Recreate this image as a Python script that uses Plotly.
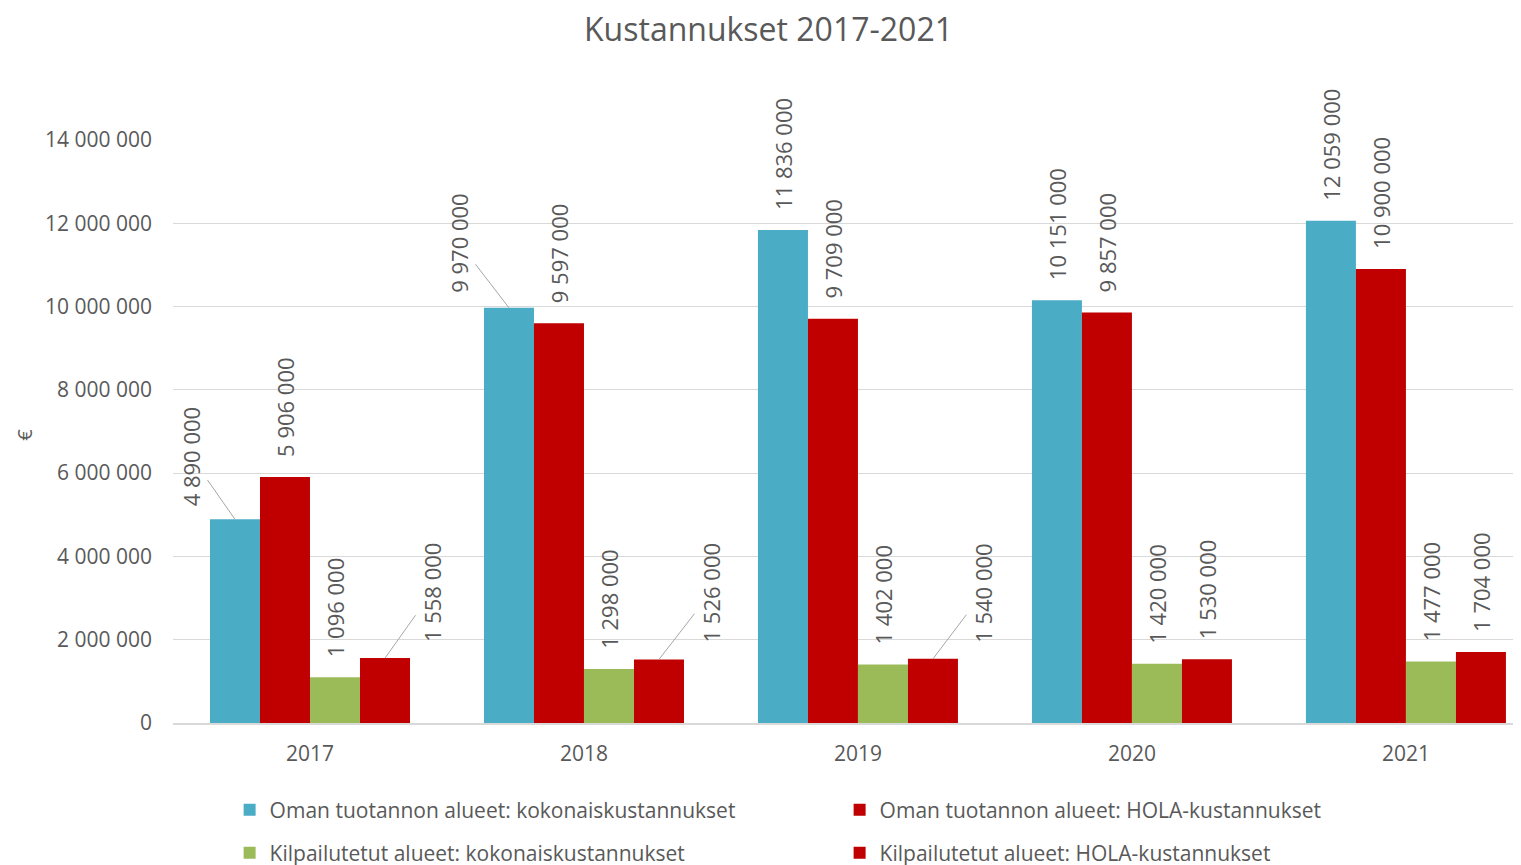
import plotly.graph_objects as go

years = ["2017", "2018", "2019", "2020", "2021"]
series_names = [
    "Oman tuotannon alueet: kokonaiskustannukset",
    "Oman tuotannon alueet: HOLA-kustannukset",
    "Kilpailutetut alueet: kokonaiskustannukset",
    "Kilpailutetut alueet: HOLA-kustannukset",
]
own_total = [4890000, 9970000, 11836000, 10151000, 12059000]
own_hola = [5906000, 9597000, 9709000, 9857000, 10900000]
comp_total = [1096000, 1298000, 1402000, 1420000, 1477000]
comp_hola = [1558000, 1526000, 1540000, 1530000, 1704000]
y_ticks = [0, 2000000, 4000000, 6000000, 8000000, 10000000, 12000000, 14000000]

colors = ["#4BACC6", "#C00000", "#9BBB59", "#C00000"]
series = [own_total, own_hola, comp_total, comp_hola]

# labels drawn with leader lines: (series index, year index, ax, ay)
leader = [(0, 0, -44, -63), (3, 0, 47, -66), (0, 1, -50, -65), (3, 1, 52, -67), (3, 2, 50, -66)]
leader_set = {(s, i) for s, i, _, _ in leader}

FONT = "Open Sans"
GREY = "#595959"
bargap = 0.27
LBL = 22

fig = go.Figure()
for s, (name, vals, col) in enumerate(zip(series_names, series, colors)):
    texts = ["" if (s, i) in leader_set else "\u00a0\u00a0\u00a0" + f"{v:,}".replace(",", " ")
             for i, v in enumerate(vals)]
    fig.add_trace(go.Bar(
        x=years, y=vals, name=name, marker_color=col, marker_line_width=0,
        text=texts, textposition="outside", textangle=-90, cliponaxis=False,
        constraintext="none",
        textfont=dict(family=FONT, size=LBL, color=GREY),
        legend="legend" if s < 2 else "legend2",
        hoverinfo="skip",
    ))

n = len(series)
bw = (1 - bargap) / n
for s, i, ax, ay in leader:
    v = series[s][i]
    off = -(1 - bargap) / 2 + bw * (s + 0.5)
    fig.add_annotation(
        x=i + off, y=v, xref="x", yref="y",
        text=f"{v:,}".replace(",", " "), textangle=-90,
        showarrow=True, arrowhead=0, arrowwidth=1, arrowcolor="#A6A6A6",
        ax=ax, ay=ay, font=dict(family=FONT, size=LBL, color=GREY),
    )

fig.add_annotation(
    x=-0.11, y=0.494, xref="paper", yref="paper", text="€", textangle=-90,
    xanchor="center", yanchor="middle",
    showarrow=False, font=dict(family=FONT, size=20, color=GREY),
)

H = 865
fig.update_layout(
    width=1521, height=H, autosize=False,
    paper_bgcolor="white", plot_bgcolor="white",
    separators=", ",
    margin=dict(l=165, r=8, t=132, b=150),
    title=dict(text="Kustannukset 2017-2021", x=0.5, xanchor="center",
               y=1 - 22 / H, yanchor="middle",
               font=dict(family=FONT, size=32, color=GREY)),
    barmode="group", bargap=bargap, bargroupgap=0,
    xaxis=dict(type="category", range=[-0.5, 4.42], showgrid=False,
               showline=True, linecolor="#D9D9D9", linewidth=1.5, ticks="",
               tickfont=dict(family=FONT, size=21, color=GREY), ticklabelstandoff=11),
    yaxis=dict(range=[0, 14000000], tickvals=y_ticks, tickformat=",.0f",
               showgrid=True, gridcolor="#D9D9D9", gridwidth=1.2, zeroline=False,
               showline=False, ticks="",
               tickfont=dict(family=FONT, size=21, color=GREY), ticklabelstandoff=20),
    legend=dict(orientation="h", x=0.042, y=1 - 802 / H, xanchor="left", yanchor="middle",
                yref="container",
                entrywidth=565, entrywidthmode="pixels", itemwidth=30,
                font=dict(family=FONT, size=21, color=GREY), bgcolor="rgba(0,0,0,0)"),
    legend2=dict(orientation="h", x=0.042, y=1 - 845 / H, xanchor="left", yanchor="middle",
                 yref="container",
                 entrywidth=565, entrywidthmode="pixels", itemwidth=30,
                 font=dict(family=FONT, size=21, color=GREY), bgcolor="rgba(0,0,0,0)"),
    showlegend=True,
)

fig.write_html("out.html")
